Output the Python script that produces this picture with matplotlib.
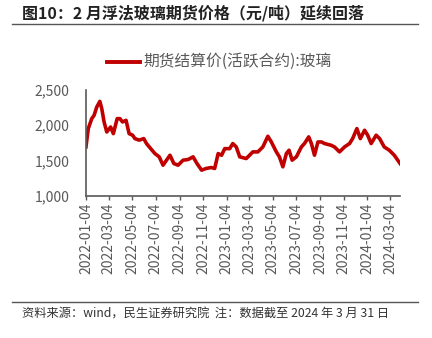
import pandas as pd
import matplotlib
matplotlib.use("Agg")
import matplotlib.pyplot as plt
import matplotlib.dates as mdates
from matplotlib.lines import Line2D

plt.rcParams['font.family'] = ['Noto Sans CJK SC', 'DejaVu Sans']

# glass futures settlement price (active contract)
dates = [
    "2022-01-04", "2022-01-10", "2022-01-19", "2022-01-25", "2022-02-01", "2022-02-09",
    "2022-02-14", "2022-02-20", "2022-02-27", "2022-03-09", "2022-03-16", "2022-03-26",
    "2022-04-02", "2022-04-09", "2022-04-18", "2022-04-26", "2022-05-05", "2022-05-11",
    "2022-05-22", "2022-06-03", "2022-06-10", "2022-06-21", "2022-07-02", "2022-07-13",
    "2022-07-23", "2022-08-10", "2022-08-20", "2022-08-31", "2022-09-13", "2022-09-26",
    "2022-10-09", "2022-10-19", "2022-10-31", "2022-11-12", "2022-11-25", "2022-12-04",
    "2022-12-13", "2022-12-22", "2022-12-30", "2023-01-12", "2023-01-20", "2023-01-29",
    "2023-02-07", "2023-02-24", "2023-03-13", "2023-03-26", "2023-04-08", "2023-04-21",
    "2023-04-30", "2023-05-13", "2023-05-21", "2023-05-30", "2023-06-08", "2023-06-15",
    "2023-06-23", "2023-07-04", "2023-07-17", "2023-07-25", "2023-08-05", "2023-08-12",
    "2023-08-20", "2023-08-29", "2023-09-07", "2023-09-15", "2023-10-02", "2023-10-11",
    "2023-10-24", "2023-11-06", "2023-11-19", "2023-11-27", "2023-12-08", "2023-12-17",
    "2023-12-28", "2024-01-05", "2024-01-14", "2024-01-27", "2024-02-05", "2024-02-17",
    "2024-03-01", "2024-03-14", "2024-03-23", "2024-03-29",
]
prices = [
    1694, 1953, 2094, 2140, 2258, 2338,
    2235, 2047, 1906, 1976, 1882, 2094,
    2094, 2047, 2070, 1882, 1860, 1812,
    1790, 1812, 1742, 1670, 1600, 1554,
    1436, 1577, 1460, 1436, 1507, 1516,
    1554, 1460, 1366, 1390, 1403, 1390,
    1600, 1577, 1670, 1670, 1742, 1694,
    1554, 1530, 1624, 1624, 1694, 1845,
    1765, 1624, 1554, 1413, 1600, 1648,
    1507, 1554, 1694, 1742, 1836, 1742,
    1577, 1765, 1765, 1742, 1718, 1694,
    1624, 1694, 1742, 1812, 1953, 1812,
    1930, 1860, 1742, 1860, 1812, 1694,
    1648, 1577, 1507, 1460,
]
tick_dates = ["2022-01-04", "2022-03-04", "2022-05-04", "2022-07-04", "2022-09-04",
              "2022-11-04", "2023-01-04", "2023-03-04", "2023-05-04", "2023-07-04",
              "2023-09-04", "2023-11-04", "2024-01-04", "2024-03-04"]
y_ticks = [1000, 1500, 2000, 2500]

title = "图10：2 月浮法玻璃期货价格（元/吨）延续回落"
series_name = "期货结算价(活跃合约):玻璃"
source = "资料来源：wind，民生证券研究院  注：数据截至 2024 年 3 月 31 日"

red = "#C00000"
grey = "#595959"

x = pd.to_datetime(dates)

fig = plt.figure(figsize=(4.32, 3.38), dpi=100)
ax = fig.add_axes([0.199, 0.420, 0.727, 0.314])
ax.plot(x, prices, color=red, lw=2.6, solid_joinstyle="round")

ax.set_xlim(pd.Timestamp("2022-01-04"), pd.Timestamp("2024-03-29"))
ax.set_ylim(1000, 2500)
ax.set_yticks(y_ticks)
ax.set_yticklabels([f"{v:,}" for v in y_ticks])
ax.set_xticks(pd.to_datetime(tick_dates))
ax.xaxis.set_major_formatter(mdates.DateFormatter("%Y-%m-%d"))
ax.tick_params(axis="x", rotation=90, length=3, width=1, color=grey,
               labelsize=10, labelcolor=grey, pad=2)
ax.tick_params(axis="y", length=0, labelsize=10, labelcolor=grey, pad=12)
for s in ["top", "right"]:
    ax.spines[s].set_visible(False)
for s in ["left", "bottom"]:
    ax.spines[s].set_color(grey)
    ax.spines[s].set_linewidth(1.2)

# title and rules
fig.text(22 / 432, 1 - 13 / 338, title, fontsize=11.5, fontweight="bold",
         color="#222222", va="center", ha="left")
fig.add_artist(Line2D([12 / 432, 418 / 432], [1 - 23.5 / 338] * 2,
                      color="#555555", lw=1))
fig.add_artist(Line2D([12 / 432, 418 / 432], [1 - 301.5 / 338] * 2,
                      color="#555555", lw=1))
fig.text(22 / 432, 1 - 314 / 338, source, fontsize=8.8, color="#333333",
         va="center", ha="left")

# legend
fig.add_artist(Line2D([107 / 432, 140 / 432], [1 - 62 / 338] * 2, color=red, lw=2.8))
fig.text(143 / 432, 1 - 61 / 338, series_name, fontsize=11.3, color=grey,
         va="center", ha="left")

fig.savefig("out.png", dpi=100)
